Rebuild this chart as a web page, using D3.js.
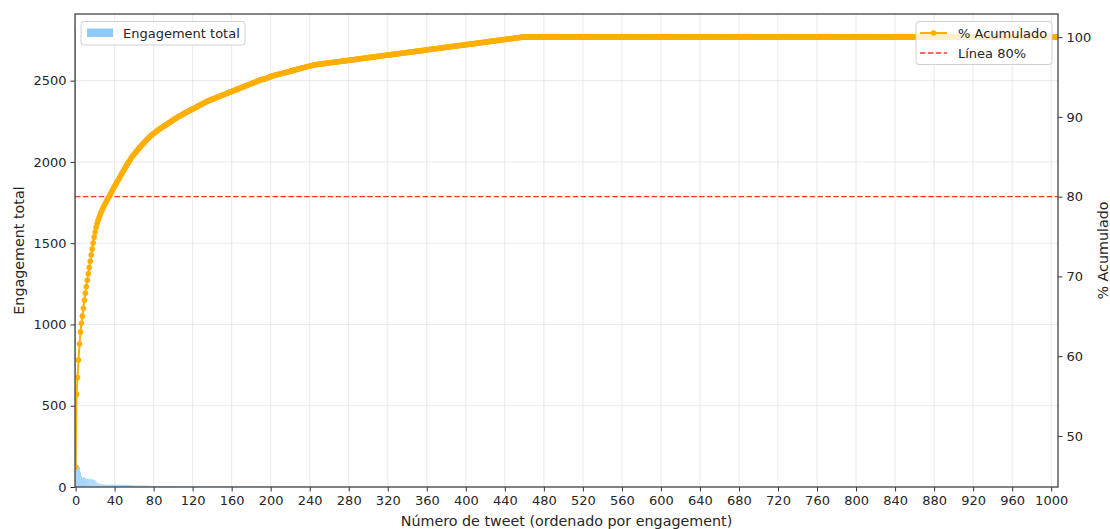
<!DOCTYPE html>
<html>
<head>
<meta charset="utf-8">
<script src="https://cdn.jsdelivr.net/npm/d3@7"></script>
<style>
  body { margin: 0; background: #fff; }
  svg { display: block; font-family: "DejaVu Sans", sans-serif; }
</style>
</head>
<body>
<div id="chart"></div>
<script>
// engagement of the top tweets, one value per tweet (rank 0..34)
const topEngagement = [2830, 560, 128, 135, 123, 92, 68, 55, 61, 61, 55, 49, 50, 50, 48, 48, 48, 47, 46, 45,
  40, 36, 26, 24, 22, 20, 19, 18, 17, 16, 15, 14, 14, 13, 13];
// rest of the tweets, as runs of equal engagement
const tailValues = [14, 13, 12, 9, 8, 6, 5, 4, 3, 2, 3, 2, 1, 0];
const tailCounts = [7, 11, 6, 9, 9, 8, 21, 30, 55, 5, 6, 43, 214, 549];

const xTicks = d3.range(0, 1001, 40);
const yLeftTicks = [0, 500, 1000, 1500, 2000, 2500];
const yRightTicks = [50, 60, 70, 80, 90, 100];
const threshold = 80;

// build full series
const engagement = topEngagement.slice();
tailValues.forEach((v, i) => {
  for (let k = 0; k < tailCounts[i]; k++) engagement.push(v);
});
const total = d3.sum(engagement);
const cum = Array.from(d3.cumsum(engagement));
const data = engagement.map((e, i) => ({ i: i, e: e, pct: cum[i] / total * 100 }));

const W = 1110, H = 529;
const m = { left: 75, right: 1058, top: 14, bottom: 487 };

const svg = d3.select('#chart').append('svg')
  .attr('width', W)
  .attr('height', H);

const x = d3.scaleLinear().domain([-0.6, 1007]).range([m.left, m.right]);
const y = d3.scaleLinear().domain([0, 2910]).range([m.bottom, m.top]);
const yR = d3.scaleLinear().domain([43.6, 102.9]).range([m.bottom, m.top]);

svg.append('defs').append('clipPath').attr('id', 'clip')
  .append('rect')
  .attr('x', m.left).attr('y', m.top)
  .attr('width', m.right - m.left).attr('height', m.bottom - m.top);

// grid
const grid = svg.append('g');
grid.selectAll('.gx').data(xTicks).enter().append('line')
  .attr('x1', d => x(d)).attr('x2', d => x(d))
  .attr('y1', m.top).attr('y2', m.bottom)
  .attr('stroke', '#b0b0b0').attr('stroke-opacity', 0.3).attr('stroke-width', 0.9);
grid.selectAll('.gy').data(yLeftTicks).enter().append('line')
  .attr('x1', m.left).attr('x2', m.right)
  .attr('y1', d => y(d)).attr('y2', d => y(d))
  .attr('stroke', '#b0b0b0').attr('stroke-opacity', 0.3).attr('stroke-width', 0.9);

const plot = svg.append('g').attr('clip-path', 'url(#clip)');

// bars
plot.selectAll('rect.bar')
  .data(data.filter(d => d.e > 0))
  .enter().append('rect')
  .attr('class', 'bar')
  .attr('x', d => x(d.i - 0.4))
  .attr('width', x(0.8) - x(0))
  .attr('y', d => y(d.e))
  .attr('height', d => y(0) - y(d.e))
  .attr('fill', '#90CAF9');

// 80% line
plot.append('line')
  .attr('x1', m.left).attr('x2', m.right)
  .attr('y1', yR(threshold)).attr('y2', yR(threshold))
  .attr('stroke', 'red').attr('stroke-opacity', 0.8)
  .attr('stroke-width', 1.4)
  .attr('stroke-dasharray', '5.5,2.4');

// cumulative line + markers
const line = d3.line().x(d => x(d.i)).y(d => yR(d.pct));
plot.append('path')
  .datum(data)
  .attr('d', line)
  .attr('fill', 'none')
  .attr('stroke', '#FFAF00')
  .attr('stroke-width', 2);

plot.selectAll('circle.pt')
  .data(data)
  .enter().append('circle')
  .attr('class', 'pt')
  .attr('cx', d => x(d.i))
  .attr('cy', d => yR(d.pct))
  .attr('r', 2.8)
  .attr('fill', '#FFAF00');

// axes
const fs = 13;
const fsLabel = 14.3;
const axisX = d3.axisBottom(x).tickValues(xTicks).tickFormat(d3.format('d')).tickSize(4.5).tickPadding(4);
const gx = svg.append('g').attr('transform', `translate(0,${m.bottom})`).call(axisX);
const axisL = d3.axisLeft(y).tickValues(yLeftTicks).tickFormat(d3.format('d')).tickSize(4.5).tickPadding(4);
const gl = svg.append('g').attr('transform', `translate(${m.left},0)`).call(axisL);
const axisR = d3.axisRight(yR).tickValues(yRightTicks).tickFormat(d3.format('d')).tickSize(4.5).tickPadding(4);
const gr = svg.append('g').attr('transform', `translate(${m.right},0)`).call(axisR);

[gx, gl, gr].forEach(g => {
  g.select('.domain').remove();
  g.selectAll('text').attr('font-size', fs).attr('fill', '#262626')
    .attr('font-family', '"DejaVu Sans", sans-serif');
  g.selectAll('line').attr('stroke', '#333');
});

// frame
svg.append('rect')
  .attr('x', m.left).attr('y', m.top)
  .attr('width', m.right - m.left).attr('height', m.bottom - m.top)
  .attr('fill', 'none').attr('stroke', '#444').attr('stroke-width', 1.3);

// axis labels
svg.append('text')
  .attr('x', (m.left + m.right) / 2).attr('y', 525.5)
  .attr('text-anchor', 'middle').attr('font-size', fsLabel).attr('fill', '#262626')
  .text('Número de tweet (ordenado por engagement)');
svg.append('text')
  .attr('transform', `translate(24,${(m.top + m.bottom) / 2}) rotate(-90)`)
  .attr('text-anchor', 'middle').attr('font-size', fsLabel).attr('fill', '#262626')
  .text('Engagement total');
svg.append('text')
  .attr('transform', `translate(1108,${(m.top + m.bottom) / 2}) rotate(-90)`)
  .attr('text-anchor', 'middle').attr('font-size', fsLabel).attr('fill', '#262626')
  .text('% Acumulado');

// left legend
const lg1 = svg.append('g');
lg1.append('rect')
  .attr('x', 81).attr('y', 21.5).attr('width', 164).attr('height', 23.5)
  .attr('rx', 3).attr('fill', '#fff').attr('fill-opacity', 0.8)
  .attr('stroke', '#d0d0d0');
lg1.append('rect')
  .attr('x', 87).attr('y', 28.5).attr('width', 26).attr('height', 8.5)
  .attr('fill', '#90CAF9');
lg1.append('text')
  .attr('x', 123).attr('y', 38).attr('font-size', fs).attr('fill', '#262626')
  .text('Engagement total');

// right legend
const lg2 = svg.append('g');
lg2.append('rect')
  .attr('x', 916).attr('y', 21.5).attr('width', 136).attr('height', 43)
  .attr('rx', 3).attr('fill', '#fff').attr('fill-opacity', 0.8)
  .attr('stroke', '#d0d0d0');
lg2.append('line')
  .attr('x1', 920).attr('x2', 947).attr('y1', 33).attr('y2', 33)
  .attr('stroke', '#FFAF00').attr('stroke-width', 2);
lg2.append('circle')
  .attr('cx', 933.5).attr('cy', 33).attr('r', 2.8).attr('fill', '#FFAF00');
lg2.append('text')
  .attr('x', 958).attr('y', 38).attr('font-size', fs).attr('fill', '#262626')
  .text('% Acumulado');
lg2.append('line')
  .attr('x1', 920).attr('x2', 947).attr('y1', 53).attr('y2', 53)
  .attr('stroke', 'red').attr('stroke-opacity', 0.8)
  .attr('stroke-width', 1.4).attr('stroke-dasharray', '5.5,2.4');
lg2.append('text')
  .attr('x', 958).attr('y', 58).attr('font-size', fs).attr('fill', '#262626')
  .text('Línea 80%');
</script>
</body>
</html>
